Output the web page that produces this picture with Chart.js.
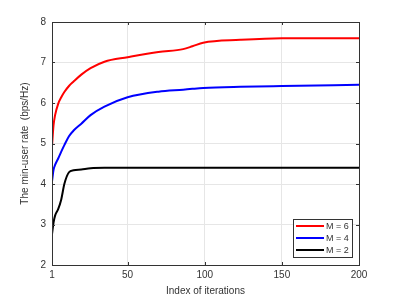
<!DOCTYPE html>
<html>
<head>
<meta charset="utf-8">
<script src="https://cdn.jsdelivr.net/npm/chart.js@4/dist/chart.umd.min.js"></script>
<style>
html,body{margin:0;padding:0;background:#fff;}
#wrap{width:397px;height:297px;}
</style>
</head>
<body>
<div id="wrap"><canvas id="c" width="397" height="297"></canvas></div>
<script>
// data
const iterations = [1,2,3,5,7,9,12,15,20,26,35,50,70,86,92,99,123,150,200];
const rateM6 = [4.94,5.45,5.70,5.98,6.14,6.27,6.42,6.53,6.70,6.86,7.02,7.13,7.26,7.33,7.40,7.49,7.56,7.60,7.60];
const rateM4 = [4.06,4.35,4.47,4.63,4.80,4.96,5.18,5.32,5.49,5.70,5.91,6.14,6.28,6.33,6.35,6.37,6.40,6.42,6.45];
const rateM2 = [2.76,3.05,3.22,3.38,3.62,4.00,4.29,4.34,4.36,4.39,4.40,4.40,4.40,4.40,4.40,4.40,4.40,4.40,4.40];
const seriesLabels = ['M = 6','M = 4','M = 2'];
const seriesColors = ['#ff0000','#0000ff','#000000'];
const xTicks = [1,50,100,150,200];

function pts(arr){
return arr.map((v,i)=>({x:iterations[i],y:v}));
}

const axisColor = '#333333';
const gridColor = '#e6e6e6';
const fontFam = '"Liberation Sans", Arial, sans-serif';

/* box + inward ticks + legend, matlab style */
const boxPlugin = {
id:'box',
afterDatasetsDraw(chart){
const ctx = chart.ctx, a = chart.chartArea;
const xs = chart.scales.x, ys = chart.scales.y;
ctx.save();
ctx.strokeStyle = axisColor;
ctx.lineWidth = 1;
ctx.strokeRect(a.left+0.5,a.top+0.5,a.right-a.left,a.bottom-a.top);
ctx.beginPath();
xs.ticks.forEach(t=>{
const p = Math.round(xs.getPixelForValue(t.value))+0.5;
ctx.moveTo(p,a.bottom); ctx.lineTo(p,a.bottom-3);
ctx.moveTo(p,a.top); ctx.lineTo(p,a.top+3);
});
ys.ticks.forEach(t=>{
const p = Math.round(ys.getPixelForValue(t.value))+0.5;
ctx.moveTo(a.left,p); ctx.lineTo(a.left+3,p);
ctx.moveTo(a.right,p); ctx.lineTo(a.right-3,p);
});
ctx.stroke();

/* legend */
const lx = 293, ly = 219, lw = 59, lh = 38;
ctx.fillStyle = '#fff';
ctx.fillRect(lx,ly,lw,lh);
ctx.strokeStyle = axisColor;
ctx.strokeRect(lx+0.5,ly+0.5,lw,lh);
ctx.font = '9px '+fontFam;
ctx.textBaseline = 'middle';
ctx.textAlign = 'left';
chart.data.datasets.forEach((d,i)=>{
const yy = ly + 7 + i*12;
ctx.strokeStyle = d.borderColor;
ctx.lineWidth = 2;
ctx.beginPath();
ctx.moveTo(lx+3,yy); ctx.lineTo(lx+31,yy);
ctx.stroke();
ctx.fillStyle = axisColor;
ctx.fillText(d.label,lx+33,yy+0.5);
});
ctx.restore();
}
};

new Chart(document.getElementById('c'),{
type:'line',
data:{
datasets:[0,1,2].map(i=>({
label:seriesLabels[i],
data:pts([rateM6,rateM4,rateM2][i]),
borderColor:seriesColors[i],
borderWidth:2,
pointRadius:0,
cubicInterpolationMode:'monotone',
fill:false
}))
},
options:{
responsive:false,
animation:false,
layout:{padding:{left:0,right:38,top:22,bottom:0}},
plugins:{legend:{display:false},tooltip:{enabled:false}},
scales:{
x:{
type:'linear',
min:1,max:200,
afterBuildTicks(s){ s.ticks = xTicks.map(v=>({value:v})); },
afterFit(s){ s.height = 32; },
grid:{color:gridColor,drawTicks:false},
border:{display:false},
ticks:{color:axisColor,font:{family:fontFam,size:10},padding:4,maxRotation:0},
title:{display:true,text:'Index of iterations',color:axisColor,font:{family:fontFam,size:10},padding:{top:1,bottom:0}}
},
y:{
min:2,max:8,
afterFit(s){ s.width = 52; },
grid:{color:gridColor,drawTicks:false},
border:{display:false},
ticks:{stepSize:1,color:axisColor,font:{family:fontFam,size:10},padding:6},
title:{display:true,text:'The min-user rate  (bps/Hz)',color:axisColor,font:{family:fontFam,size:10},padding:{top:19,bottom:4}}
}
}
},
plugins:[boxPlugin]
});
</script>
</body>
</html>
